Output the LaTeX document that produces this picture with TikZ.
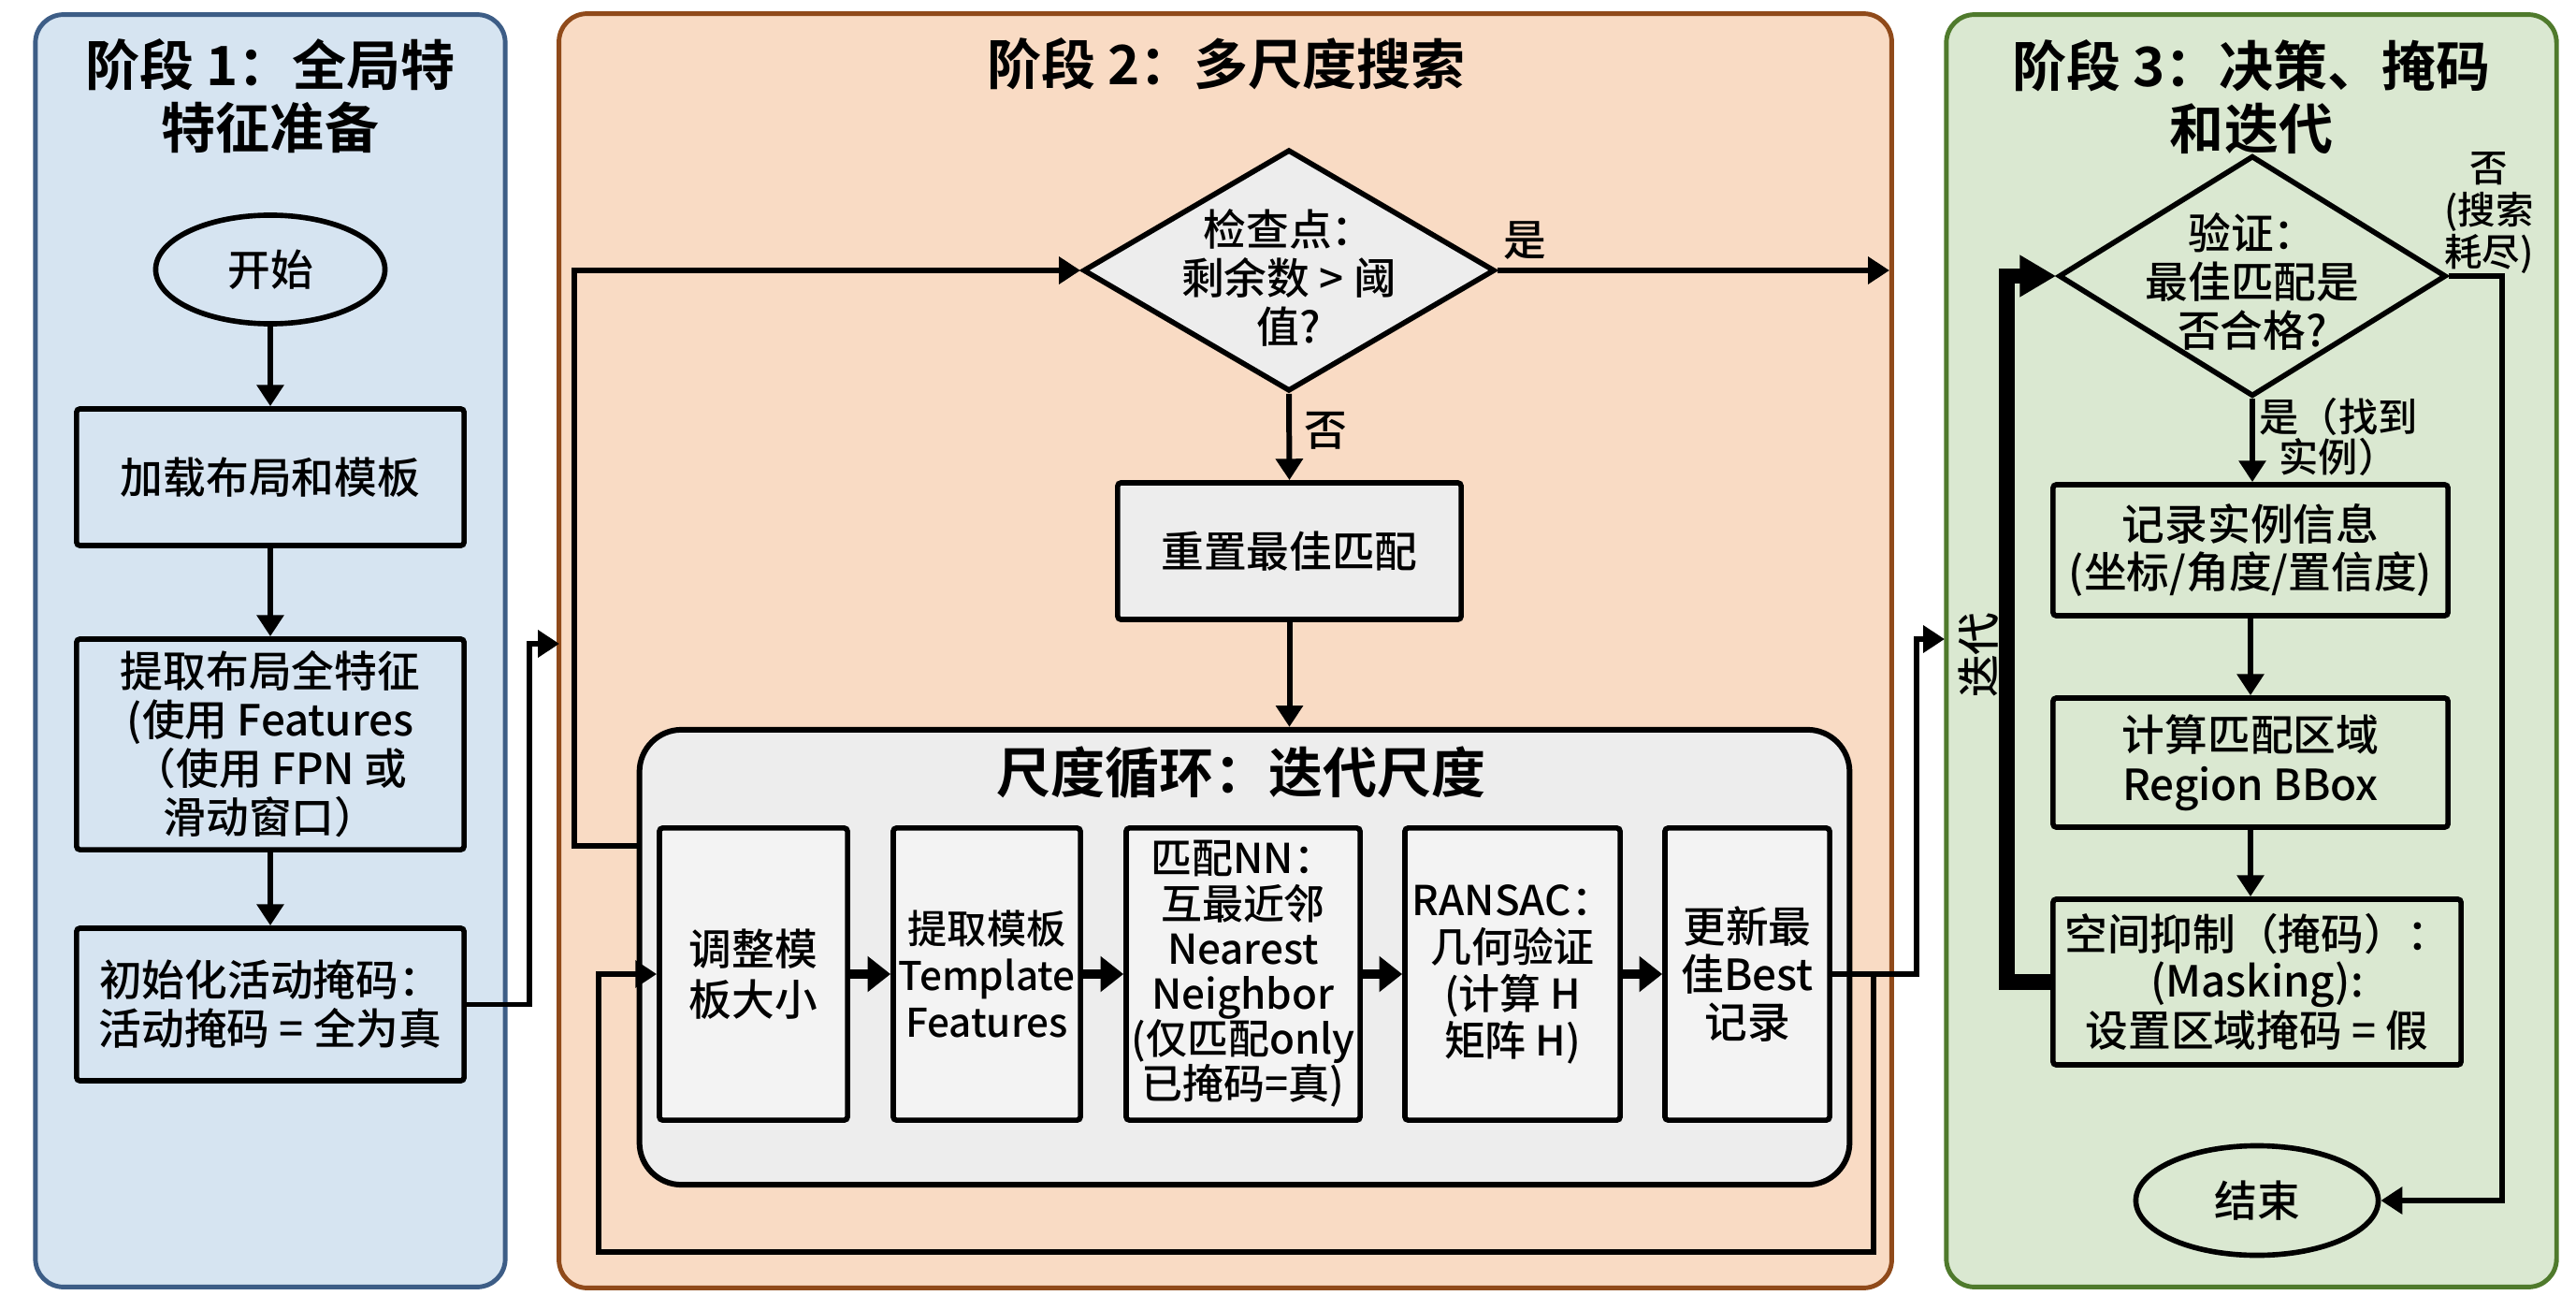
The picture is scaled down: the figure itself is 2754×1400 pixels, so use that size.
\documentclass[tikz,border=0pt]{standalone}
\usepackage{fontspec}
\setmainfont{Noto Sans CJK SC}[UprightFont={* Medium},BoldFont={* Bold}]
\usetikzlibrary{shapes.geometric,arrows.meta,calc}
\newcommand{\myfs}[2]{\fontsize{#1pt}{#2pt}\selectfont}
\definecolor{bluefill}{HTML}{D6E4F1}
\definecolor{blueline}{HTML}{3D5D86}
\definecolor{orfill}{HTML}{F9DBC4}
\definecolor{orline}{HTML}{904A1A}
\definecolor{grfill}{HTML}{DAE8D1}
\definecolor{grline}{HTML}{4F7A2C}
\definecolor{grayfill}{HTML}{EDEDED}
\definecolor{boxgray}{HTML}{F3F3F3}
\begin{document}
\begin{tikzpicture}[x=0.01cm,y=-0.01cm,
  panel/.style={draw,line width=1.4pt,rounded corners=0.3cm,inner sep=0pt},
  box/.style={draw,line width=1.6pt,rounded corners=1pt,inner sep=0pt,align=center,font={\myfs{13}{14.8}}},
  inbox/.style={box,fill=boxgray,minimum height=3.12cm},
  ttl/.style={align=center,inner sep=0pt,font={\bfseries\myfs{16.5}{19}}},
  lbl/.style={align=center,inner sep=0pt,font={\myfs{13}{14.8}}},
  arr/.style={line width=1.7pt,-{Triangle[length=6.5pt,width=8pt]}},
  tarr/.style={line width=2.8pt,-{Triangle[length=7pt,width=10.5pt]}},
  iarr/.style={line width=4.8pt,-{Triangle[length=11pt,width=12pt]}},
  ]
\fill[white] (0,0) rectangle (2754,1400);
\useasboundingbox (0,0) rectangle (2754,1400);

% panels
\node[panel,fill=bluefill,draw=blueline,minimum width=5.02cm,minimum height=13.59cm] (p1) at (289,695.5) {};
\node[panel,fill=orfill,draw=orline,minimum width=14.24cm,minimum height=13.61cm] (p2) at (1310,695.5) {};
\node[panel,fill=grfill,draw=grline,minimum width=6.52cm,minimum height=13.59cm] (p3) at (2407,695.5) {};

\node[ttl] (t1) at (289,103) {阶段 1：全局特\\特征准备};
\node[ttl] (t2) at (1311,68) {阶段 2：多尺度搜索};
\node[ttl] (t3) at (2407,104) {阶段 3：决策、掩码\\和迭代};

% phase 1
\node[ellipse,draw,line width=1.6pt,minimum width=2.45cm,minimum height=1.16cm,inner sep=0pt,font={\myfs{13}{15}}] (start) at (289,288) {开始};
\node[box,minimum width=4.14cm,minimum height=1.46cm] (load) at (289,510) {加载布局和模板};
\node[box,minimum width=4.14cm,minimum height=2.25cm] (extract) at (289,795.5) {提取布局全特征\\(使用 Features\\（使用 FPN 或\\滑动窗口）};
\node[box,minimum width=4.14cm,minimum height=1.63cm] (init) at (289,1073.5) {初始化活动掩码：\\活动掩码 = 全为真};
\coordinate (c12) at (598,688);
\draw[arr] (start.south) -- (load.north);
\draw[arr] (load.south) -- (extract.north);
\draw[arr] (extract.south) -- (init.north);
\draw[arr] (init.east) -- ++(67,0) |- (c12);

% phase 2
\node[diamond,draw,line width=1.6pt,fill=grayfill,minimum width=4.40cm,minimum height=2.58cm,inner sep=0pt] (d1) at (1378,289) {};
\node[lbl] (d1t) at (1378,297) {检查点：\\剩余数 > 阈\\值?};
\node[lbl] (yes1) at (1630,257) {是};
\node[lbl] (no1) at (1417,460) {否};
\coordinate (c2yes) at (2020,289);
\draw[arr] (d1.east) -- (c2yes);
\node[box,fill=grayfill,minimum width=3.67cm,minimum height=1.46cm] (reset) at (1378.5,589) {重置最佳匹配};
\draw[arr] (d1.south) -- (reset.north);

\node[draw,line width=1.7pt,fill=grayfill,rounded corners=0.45cm,minimum width=12.93cm,minimum height=4.86cm,inner sep=0pt] (loop) at (1330.5,1023) {};
\node[ttl] (lt) at (1327,826) {尺度循环：迭代尺度};
\draw[arr] (reset.south) -- (reset.south |- loop.north);
\draw[arr] (loop.west |- 0,904) -- ++(-67,0) |- (d1.west);

\node[inbox,minimum width=2.01cm,font={\myfs{13}{15.4}}] (b1) at (805.5,1041) {调整模\\板大小};
\node[inbox,minimum width=2.00cm,font={\myfs{12}{14.2}}] (b2) at (1055,1041) {提取模板\\Template\\Features};
\node[inbox,minimum width=2.50cm,font={\myfs{12.5}{13.7}}] (b3) at (1329,1041) {匹配NN：\\互最近邻\\Nearest\\Neighbor\\(仅匹配only\\已掩码=真)};
\node[inbox,minimum width=2.30cm,font={\myfs{12.5}{14.2}}] (b4) at (1617,1041) {RANSAC：\\几何验证\\(计算 H\\矩阵 H)};
\node[inbox,minimum width=1.76cm,font={\myfs{13}{14.5}}] (b5) at (1868,1041) {更新最\\佳Best\\记录};
\draw[tarr] (b1.east) -- (b2.west);
\draw[tarr] (b2.east) -- (b3.west);
\draw[tarr] (b3.east) -- (b4.west);
\draw[tarr] (b4.east) -- (b5.west);
\draw[arr] (b5.east) -- ++(44,0) -- ++(0,297) -| ($(b1.west)+(-62,0)$) -- (b1.west);
\coordinate (c23) at (2079,683);
\draw[arr] (b5.east) -- ++(90,0) |- (c23);

% phase 3
\node[diamond,draw,line width=1.6pt,minimum width=4.14cm,minimum height=2.57cm,inner sep=0pt] (d2) at (2408,295) {};
\node[lbl] (d2t) at (2408,301) {验证：\\最佳匹配是\\否合格?};
\node[lbl,font={\myfs{11.5}{12.8}}] (no2) at (2661,228) {否\\(搜索\\耗尽)};
\node[lbl,font={\myfs{12}{12.3}}] (yes2) at (2500,467) {是（找到\\实例）};
\node[box,minimum width=4.22cm,minimum height=1.40cm,font={\myfs{13}{14.5}}] (rec) at (2406,588) {记录实例信息\\(坐标/角度/置信度)};
\node[box,minimum width=4.22cm,minimum height=1.38cm,font={\myfs{13}{15}}] (calc) at (2406,815) {计算匹配区域\\Region BBox};
\node[box,minimum width=4.36cm,minimum height=1.77cm,font={\myfs{13}{14}}] (mask) at (2413,1049.5) {空间抑制（掩码）：\\(Masking):\\设置区域掩码 = 假};
\node[ellipse,draw,line width=1.6pt,minimum width=2.59cm,minimum height=1.17cm,inner sep=0pt,font={\myfs{13}{15}}] (end) at (2413,1283) {结束};
\draw[arr] (d2.south) -- (d2.south |- rec.north);
\draw[arr] (rec.south) -- (calc.north);
\draw[arr] (calc.south) -- (calc.south |- mask.north);
\draw[arr] (d2.east) -- ++(57,0) |- (end.east);
\draw[iarr] (mask.west) -- ++(-47,0) |- (d2.west);
\node[lbl,rotate=90] (iter) at (2115,700) {迭代};
\end{tikzpicture}
\end{document}
